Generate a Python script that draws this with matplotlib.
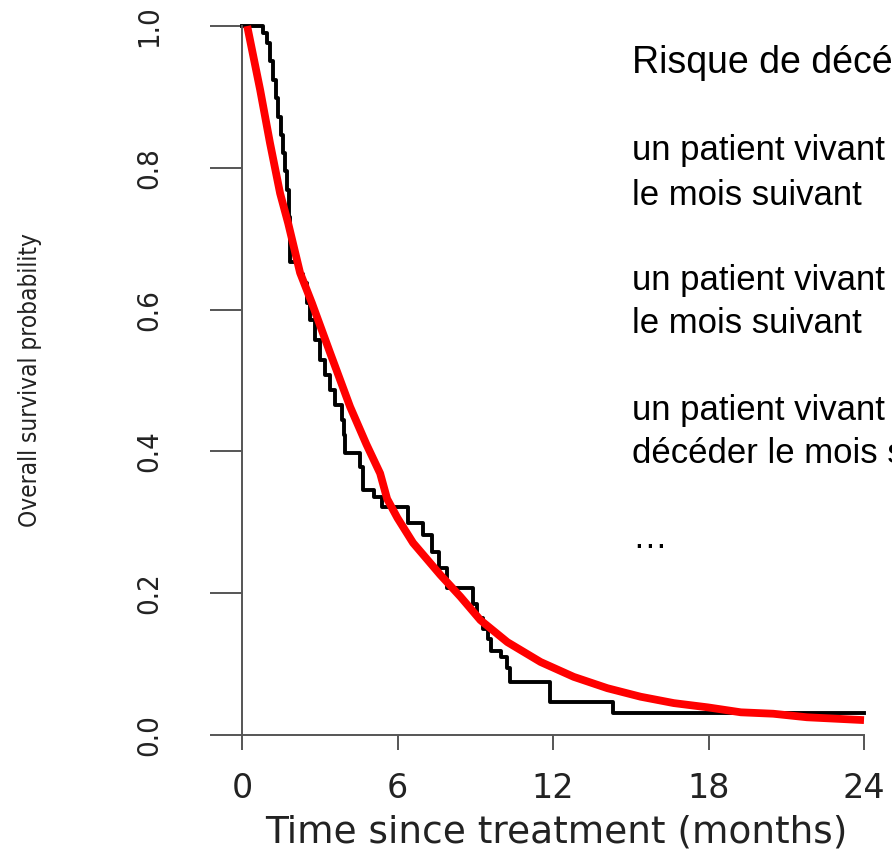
import numpy as np
import matplotlib.pyplot as plt

# Kaplan-Meier steps (time in months, survival)
km_time = [0.0, 0.81, 0.95, 1.08, 1.20, 1.30, 1.39, 1.50, 1.58, 1.66, 1.74, 1.80, 1.86,
           2.20, 2.36, 2.50, 2.63, 2.80, 3.00, 3.20, 3.40, 3.60, 3.86, 3.92, 3.98,
           4.56, 4.68, 5.10, 5.40, 6.42, 7.00, 7.34, 7.60, 7.90, 8.90, 9.05, 9.30,
           9.48, 9.60, 10.00, 10.24, 10.36, 11.90, 14.3, 24.0]
km_surv = [1.000, 0.990, 0.976, 0.950, 0.924, 0.898, 0.872, 0.846, 0.821, 0.795, 0.769, 0.730, 0.667,
           0.650, 0.637, 0.610, 0.585, 0.557, 0.529, 0.508, 0.487, 0.466, 0.444, 0.423, 0.398,
           0.378, 0.346, 0.335, 0.322, 0.299, 0.282, 0.258, 0.235, 0.207, 0.185, 0.165, 0.150,
           0.135, 0.118, 0.110, 0.095, 0.075, 0.047, 0.031, 0.031]

# red fitted curve
fit_time = [0.2, 0.7, 1.08, 1.47, 1.78, 2.24, 2.7, 3.4, 4.17, 4.8, 5.33, 5.6, 6.0, 6.6,
            7.65, 8.43, 9.2, 10.24, 11.52, 12.8, 14.1, 15.38, 16.66, 17.97, 19.25,
            20.5, 21.8, 24.0]
fit_surv = [1.000, 0.910, 0.835, 0.764, 0.722, 0.652, 0.609, 0.539, 0.463, 0.410, 0.369, 0.333,
            0.306, 0.271, 0.226, 0.195, 0.162, 0.131, 0.103, 0.082, 0.066, 0.054, 0.045,
            0.039, 0.032, 0.030, 0.025, 0.021]

x_ticks = [0, 6, 12, 18, 24]
y_ticks = [0.0, 0.2, 0.4, 0.6, 0.8, 1.0]
y_ticklabels = ["0.0", "0.2", "0.4", "0.6", "0.8", "1.0"]

side_text = ["Risque de décéder",
             "un patient vivant", "le mois suivant",
             "un patient vivant", "le mois suivant",
             "un patient vivant", "décéder le mois suivant",
             "…"]
side_baseline_px = [73, 160, 205, 290, 333, 420, 463, 548]
side_size = [27, 25, 25, 25, 25, 25, 25, 25]

W, H = 892, 852
fig = plt.figure(figsize=(W / 100, H / 100), dpi=100)
ax = fig.add_axes([242 / W, 1 - 735 / H, 622 / W, 709 / H])

ax.plot(km_time, km_surv, drawstyle='steps-post', color='black', lw=2.8, clip_on=False, zorder=2)
ax.plot(fit_time, fit_surv, color='#ff0000', lw=5.6, clip_on=False, zorder=3,
        solid_capstyle='butt', solid_joinstyle='round')

ax.set_xlim(0, 24)
ax.set_ylim(0, 1)
for s in ['top', 'right']:
    ax.spines[s].set_visible(False)
for s in ['left', 'bottom']:
    ax.spines[s].set_color('#555555')
    ax.spines[s].set_linewidth(1.4)

ax.set_xticks(x_ticks)
ax.set_xticklabels([str(t) for t in x_ticks], fontsize=24, family='DejaVu Sans', color='#222222')
ax.tick_params(axis='x', length=11, width=1.4, color='#555555', pad=16)

ax.set_yticks(y_ticks)
ax.set_yticklabels(y_ticklabels, fontsize=21, rotation=90, va='center',
                   family='DejaVu Sans', fontstretch='condensed', color='#222222')
ax.tick_params(axis='y', length=23, width=1.4, color='#555555', pad=34)

ax.set_xlabel("Time since treatment (months)", fontsize=27, family='DejaVu Sans', color='#222222')
ax.xaxis.set_label_coords(0.506, -0.138)
ax.xaxis.label.set_va('center')
ax.set_ylabel("Overall survival probability", fontsize=17.5,
              family='DejaVu Sans', fontstretch='condensed', color='#222222')
ax.yaxis.set_label_coords(-0.341, 0.5)
ax.yaxis.label.set_va('center')

for txt, yb, fs in zip(side_text, side_baseline_px, side_size):
    fig.text(632 / W, 1 - yb / H, txt, fontsize=fs, family=['Liberation Sans', 'DejaVu Sans'],
             ha='left', va='baseline', color='black')

fig.savefig('out.png', dpi=100)
